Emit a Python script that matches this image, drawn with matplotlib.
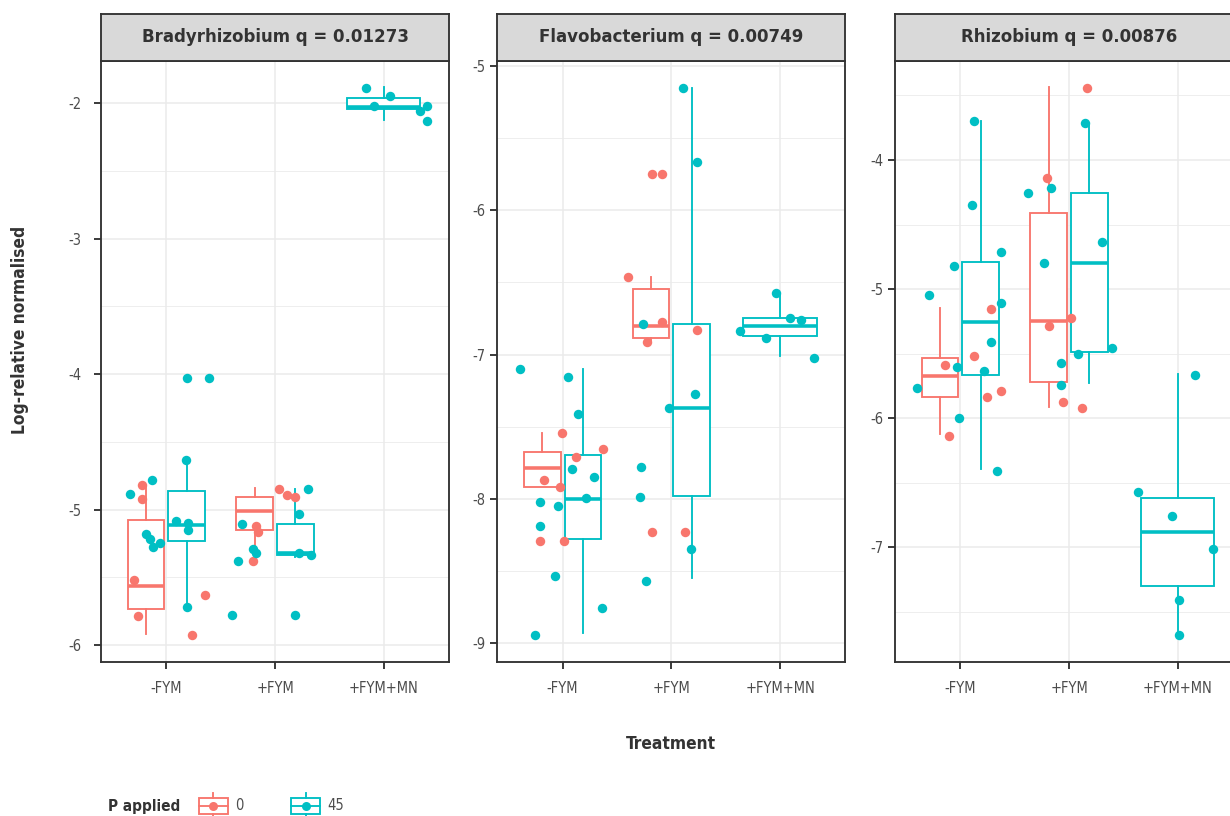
import matplotlib
matplotlib.use("Agg")
import matplotlib.pyplot as plt
from matplotlib import font_manager
from matplotlib.legend_handler import HandlerBase
from matplotlib.lines import Line2D
from matplotlib.patches import Rectangle
from matplotlib.ticker import MultipleLocator

# narrow face for all labels if one is installed
_faces = font_manager.fontManager.ttflist
_names = {f.name for f in _faces}
if "Liberation Sans Narrow" in _names:
    FAMILY, STRETCH = "Liberation Sans Narrow", "normal"
elif any(f.name == "DejaVu Sans" and f.stretch == "condensed" for f in _faces):
    FAMILY, STRETCH = "DejaVu Sans", "condensed"
else:
    FAMILY, STRETCH = "Roboto", "normal"
plt.rcParams["font.family"] = [FAMILY, "DejaVu Sans"]
plt.rcParams["font.stretch"] = STRETCH
plt.rcParams["axes.unicode_minus"] = False

treatments = ["-FYM", "+FYM", "+FYM+MN"]
p_levels = ["0", "45"]
p_colours = ["#F8766D", "#00BFC4"]
panel_titles = ["Bradyrhizobium q = 0.01273",
                "Flavobacterium q = 0.00749",
                "Rhizobium q = 0.00876"]

# ---- Bradyrhizobium ----
brady_0_trt = [1, 1, 1, 1, 1, 1, 2, 2, 2, 2, 2, 2]
brady_0_jit = [-0.225, -0.225, -0.30, -0.256, 0.36, 0.234,
               0.04, 0.11, 0.187, -0.175, -0.154, -0.198]
brady_0_val = [-4.82, -4.92, -5.523, -5.787, -5.627, -5.925,
               -4.845, -4.89, -4.908, -5.122, -5.166, -5.383]
brady_45_trt = [1] * 13 + [2] * 10 + [3] * 6
brady_45_jit = [-0.129, -0.33, -0.185, -0.154, -0.124, -0.055, 0.092, 0.2, 0.2,
                0.194, 0.194, 0.393, 0.178,
                0.307, 0.218, 0.218, 0.332, 0.187, -0.308, -0.339, -0.198,
                -0.175, -0.397,
                -0.16, 0.055, -0.09, 0.40, 0.33, 0.40]
brady_45_val = [-4.784, -4.888, -5.178, -5.215, -5.277, -5.248, -5.085, -5.1,
                -5.149, -5.716, -4.03, -4.03, -4.637,
                -4.845, -5.035, -5.321, -5.338, -5.775, -5.104, -5.381, -5.294,
                -5.321, -5.775,
                -1.885, -1.944, -2.018, -2.018, -2.057, -2.131]
# box summaries per treatment: (lower whisker, q1, median, q3, upper whisker)
brady_0_box = [(-5.92, -5.737, -5.565, -5.08, -4.82),
               (-5.383, -5.154, -5.011, -4.908, -4.841),
               None]
brady_45_box = [(-5.716, -5.235, -5.112, -4.863, -4.637),
                (-5.35, -5.338, -5.321, -5.109, -4.845),
                (-2.123, -2.042, -2.025, -1.963, -1.882)]

# ---- Flavobacterium ----
flavo_0_trt = [1] * 7 + [2] * 8
flavo_0_jit = [-0.007, 0.375, 0.124, -0.167, -0.021, -0.205, 0.016,
               -0.4, -0.182, -0.089, -0.089, -0.22, 0.236, -0.182, 0.127]
flavo_0_val = [-7.545, -7.656, -7.712, -7.869, -7.915, -8.294, -8.294,
               -6.464, -5.748, -5.748, -6.776, -6.915, -6.83, -8.227, -8.227]
flavo_45_trt = [1] * 12 + [2] * 9 + [3] * 6
flavo_45_jit = [-0.388, 0.05, 0.14, 0.087, 0.288, 0.217, -0.205, -0.044,
                -0.205, -0.074, 0.36, -0.254,
                0.106, 0.236, -0.257, 0.22, -0.021, -0.275, -0.288, 0.18, -0.235,
                -0.037, 0.093, 0.195, -0.369, -0.13, 0.31]
flavo_45_val = [-7.102, -7.155, -7.414, -7.793, -7.846, -7.996, -8.024, -8.049,
                -8.188, -8.534, -8.754, -8.943,
                -5.15, -5.667, -6.79, -7.275, -7.372, -7.777, -7.985, -8.35,
                -8.567,
                -6.571, -6.749, -6.76, -6.834, -6.887, -7.021]
flavo_0_box = [(-7.915, -7.915, -7.788, -7.673, -7.545),
               (-6.915, -6.883, -6.8, -6.548, -6.464),
               None]
flavo_45_box = [(-8.931, -8.28, -8.0, -7.696, -7.1),
                (-8.55, -7.98, -7.368, -6.788, -5.15),
                (-7.008, -6.871, -6.8, -6.749, -6.575)]

# ---- Rhizobium ----
rhizo_0_trt = [1] * 6 + [2] * 6
rhizo_0_jit = [-0.144, -0.108, 0.285, 0.126, 0.248, 0.377,
               0.162, -0.206, -0.184, 0.021, -0.052, 0.122]
rhizo_0_val = [-5.588, -6.135, -5.154, -5.516, -5.833, -5.787,
               -3.44, -4.137, -5.286, -5.226, -5.877, -5.923]
rhizo_45_trt = [1] * 12 + [2] * 9 + [3] * 6
rhizo_45_jit = [0.131, 0.107, 0.377, -0.058, -0.288, 0.377, 0.285, -0.03,
                0.214, -0.398, -0.016, 0.34,
                0.143, -0.377, -0.163, -0.23, 0.306, 0.085, 0.392, -0.071,
                -0.071,
                0.159, -0.362, -0.055, 0.322, 0.015, 0.015]
rhizo_45_val = [-3.698, -4.349, -4.715, -4.821, -5.046, -5.105, -5.412, -5.606,
                -5.632, -5.768, -5.996, -6.409,
                -3.711, -4.258, -4.214, -4.8, -4.638, -5.503, -5.454, -5.575,
                -5.743,
                -5.666, -6.575, -6.758, -7.014, -7.408, -7.679]
rhizo_0_box = [(-6.125, -5.833, -5.673, -5.531, -5.149),
               (-5.911, -5.722, -5.247, -4.408, -3.437),
               None]
rhizo_45_box = [(-6.396, -5.665, -5.252, -4.793, -3.698),
                (-5.73, -5.49, -4.8, -4.258, -3.711),
                (-7.68, -7.3, -6.884, -6.62, -5.66)]

panels = [
    ((brady_0_trt, brady_0_jit, brady_0_val), (brady_45_trt, brady_45_jit, brady_45_val),
     brady_0_box, brady_45_box, (-6.123, -1.685), (-6, -2)),
    ((flavo_0_trt, flavo_0_jit, flavo_0_val), (flavo_45_trt, flavo_45_jit, flavo_45_val),
     flavo_0_box, flavo_45_box, (-9.128, -4.963), (-9, -5)),
    ((rhizo_0_trt, rhizo_0_jit, rhizo_0_val), (rhizo_45_trt, rhizo_45_jit, rhizo_45_val),
     rhizo_0_box, rhizo_45_box, (-7.886, -3.231), (-7, -4)),
]

INK = "#333333"
TICK_TXT = "#4D4D4D"
GRID = "#EBEBEB"
LW = 1.35
TICK_FS = 10.5

W_PX, H_PX = 1230, 816
fig = plt.figure(figsize=(W_PX / 100, H_PX / 100), dpi=100)

panel_left = [101, 497.3, 895]
panel_w = 348
panel_top, panel_bot, strip_top = 60.7, 661.7, 14
ytick_pad = [9, 3.5, 3.5]


def draw_boxes(ax, boxes, colour, offset, width):
    stats, pos = [], []
    for i, b in enumerate(boxes):
        if b is None:
            continue
        lo, q1, med, q3, hi = b
        stats.append(dict(whislo=lo, q1=q1, med=med, q3=q3, whishi=hi))
        pos.append(i + 1 + offset)
    ax.bxp(stats, positions=pos, widths=width, showfliers=False, showcaps=False,
           patch_artist=True,
           boxprops=dict(facecolor="white", edgecolor=colour, linewidth=LW),
           whiskerprops=dict(color=colour, linewidth=LW),
           medianprops=dict(color=colour, linewidth=LW * 1.9),
           zorder=2)


for k, (pts0, pts45, box0, box45, ylim, yrange) in enumerate(panels):
    ax = fig.add_axes([panel_left[k] / W_PX, 1 - panel_bot / H_PX,
                       panel_w / W_PX, (panel_bot - panel_top) / H_PX])
    ax.set_xlim(0.4, 3.6)
    ax.set_ylim(*ylim)

    # two P levels share a treatment -> dodged boxes; lone level -> full width
    for boxes, colour, side in ((box0, p_colours[0], -1), (box45, p_colours[1], 1)):
        for i, b in enumerate(boxes):
            if b is None:
                continue
            other = (box45 if side < 0 else box0)[i]
            if other is None:
                draw_boxes(ax, [None] * i + [b], colour, 0.0, 0.675)
            else:
                draw_boxes(ax, [None] * i + [b], colour, side * 0.1875, 0.3375)

    for (trt, jit, val), colour in ((pts0, p_colours[0]), (pts45, p_colours[1])):
        xs = [t + j for t, j in zip(trt, jit)]
        ax.plot(xs, val, "o", ms=6.8, mew=0, color=colour, zorder=3, clip_on=False)

    ax.set_xticks([1, 2, 3])
    ax.set_xticklabels(treatments)
    ax.yaxis.set_major_locator(MultipleLocator(1))
    ax.yaxis.set_minor_locator(MultipleLocator(0.5))
    ax.set_yticks(range(yrange[0], yrange[1] + 1))
    ax.set_axisbelow(True)
    ax.grid(which="major", color=GRID, linewidth=1.1)
    ax.grid(which="minor", axis="y", color=GRID, linewidth=0.6)
    ax.tick_params(which="major", length=5, width=LW, color=INK,
                   labelcolor=TICK_TXT, labelsize=TICK_FS)
    ax.tick_params(axis="x", pad=9)
    ax.tick_params(axis="y", pad=ytick_pad[k])
    ax.tick_params(which="minor", length=0)
    for s in ax.spines.values():
        s.set_color(INK)
        s.set_linewidth(LW)

    strip = fig.add_axes([panel_left[k] / W_PX, 1 - panel_top / H_PX,
                          panel_w / W_PX, (panel_top - strip_top) / H_PX])
    strip.set_facecolor("#D9D9D9")
    strip.set_xticks([])
    strip.set_yticks([])
    for s in strip.spines.values():
        s.set_color(INK)
        s.set_linewidth(LW)
    strip.text(0.5, 0.5, panel_titles[k], ha="center", va="center",
               fontsize=13.3, fontweight="bold", color=INK,
               transform=strip.transAxes)

fig.text(20 / W_PX, 1 - 330 / H_PX, "Log-relative normalised", rotation=90,
         ha="center", va="center", fontsize=12.4, fontweight="bold", color=INK)
fig.text(671 / W_PX, 1 - 744 / H_PX, "Treatment", ha="center", va="center",
         fontsize=12.4, fontweight="bold", color=INK)


class BoxKey(HandlerBase):
    def create_artists(self, legend, orig_handle, xdescent, ydescent,
                       width, height, fontsize, trans):
        c = orig_handle.get_color()
        x0, y0 = -xdescent, -ydescent
        xm = x0 + width / 2
        rect = Rectangle((x0, y0 + 0.25 * height), width, 0.5 * height,
                         facecolor="white", edgecolor=c, lw=LW, transform=trans)
        lo = Line2D([xm, xm], [y0 + 0.1 * height, y0 + 0.25 * height],
                    color=c, lw=LW, transform=trans)
        hi = Line2D([xm, xm], [y0 + 0.75 * height, y0 + 0.9 * height],
                    color=c, lw=LW, transform=trans)
        med = Line2D([x0, x0 + width], [y0 + 0.5 * height] * 2,
                     color=c, lw=LW, transform=trans)
        dot = Line2D([xm], [y0 + 0.5 * height], marker="o", ms=6.5, mew=0,
                     linestyle="none", color=c, transform=trans)
        return [rect, lo, hi, med, dot]


handles = [Line2D([], [], color=c) for c in p_colours]
leg_fs = 10.5
px = leg_fs * 100 / 72
fig.legend(handles, p_levels, handler_map={Line2D: BoxKey()},
           loc="center left", bbox_to_anchor=(199 / W_PX, 1 - 806 / H_PX),
           ncol=2, frameon=False, fontsize=leg_fs, labelcolor=TICK_TXT,
           handlelength=29 / px, handleheight=3.1, handletextpad=7 / px,
           columnspacing=48 / px, borderpad=0, borderaxespad=0)
fig.text(108 / W_PX, 1 - 806 / H_PX, "P applied", ha="left", va="center",
         fontsize=11, fontweight="bold", color=INK)

fig.savefig("out.png", dpi=100)
